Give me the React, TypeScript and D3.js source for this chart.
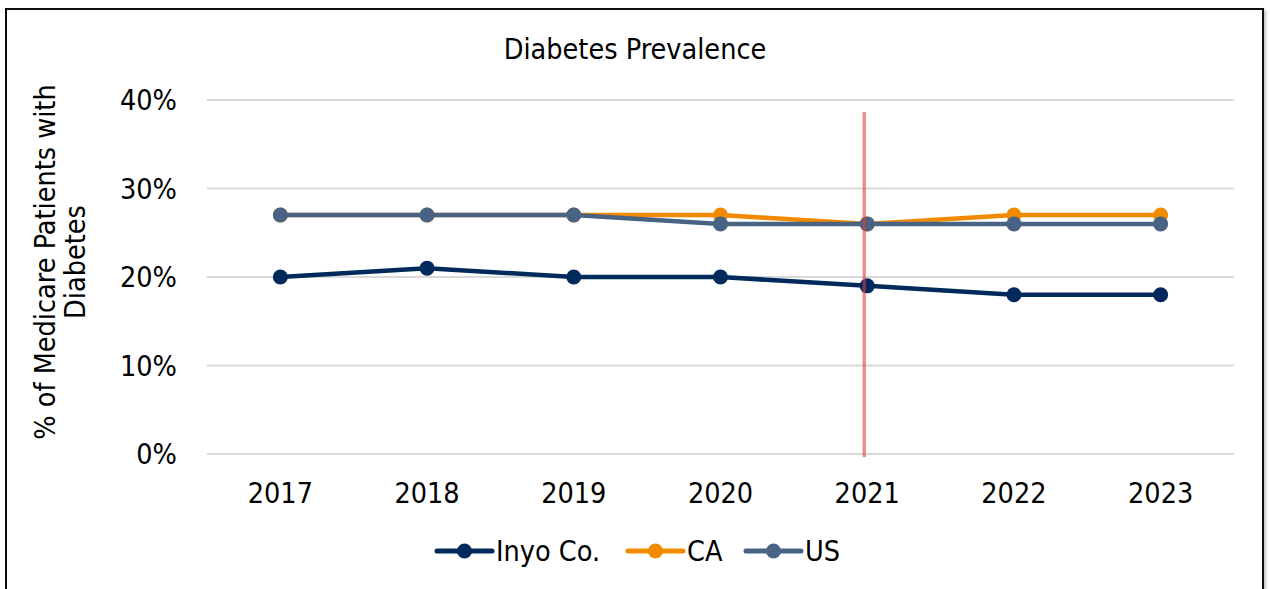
import React from "react";
import * as d3 from "d3";

const years = ["2017", "2018", "2019", "2020", "2021", "2022", "2023"];
const inyo = [0.2, 0.21, 0.2, 0.2, 0.19, 0.18, 0.18];
const ca = [0.27, 0.27, 0.27, 0.27, 0.26, 0.27, 0.27];
const us = [0.27, 0.27, 0.27, 0.26, 0.26, 0.26, 0.26];
const yTicks = [0, 0.1, 0.2, 0.3, 0.4];
const markerYear = "2021";
const seriesNames = ["Inyo Co.", "CA", "US"];
const seriesColors = ["#002a5c", "#f28a00", "#496384"];

const W = 1270;
const H = 589;
const FONT = "'DejaVu Sans', sans-serif";

export default function App() {
  const x = d3.scaleBand<string>().domain(years).range([207, 1234]);
  const y = d3.scaleLinear().domain([0, 0.4]).range([454, 100]);
  const cx = (d: string) => (x(d) as number) + x.bandwidth() / 2;
  const line = d3
    .line<number>()
    .x((_, i) => cx(years[i]))
    .y((v) => y(v));
  const series = [inyo, ca, us];
  const legendX = [437, 628, 746];
  const fmt = d3.format(".0%");

  return (
    <svg
      width={W}
      height={H}
      style={{ position: "absolute", left: 0, top: 0, background: "#fff" }}
      fontFamily={FONT}
      fontStretch="condensed"
    >
      <defs>
        <filter id="sh" x="-5%" y="-5%" width="110%" height="110%">
          <feDropShadow dx="2" dy="2" stdDeviation="1.5" floodColor="#000" floodOpacity="0.25" />
        </filter>
      </defs>
      <rect x={6} y={9} width={1257} height={600} fill="#fff" stroke="#111" strokeWidth={2} filter="url(#sh)" />
      <text x={635} y={59} textAnchor="middle" fontSize={28.5} fill="#000">
        Diabetes Prevalence
      </text>
      {yTicks.map((t) => (
        <g key={t}>
          <line x1={207} x2={1234} y1={y(t)} y2={y(t)} stroke="#d9d9d9" strokeWidth={2} />
          <text x={177} y={y(t)} dy="0.36em" textAnchor="end" fontSize={28.5} fill="#000">
            {fmt(t)}
          </text>
        </g>
      ))}
      {years.map((yr) => (
        <text key={yr} x={cx(yr)} y={503} textAnchor="middle" fontSize={28.5} fill="#000">
          {yr}
        </text>
      ))}
      <text transform="translate(0,262) rotate(-90)" textAnchor="middle" fontSize={28.5} fill="#000">
        <tspan x={0} y={55}>% of Medicare Patients with</tspan>
        <tspan x={0} y={85}>Diabetes</tspan>
      </text>
      {series.map((s, si) => (
        <g key={si}>
          <path d={line(s) as string} fill="none" stroke={seriesColors[si]} strokeWidth={4.5} strokeLinejoin="round" />
          {s.map((v, i) => (
            <circle key={i} cx={cx(years[i])} cy={y(v)} r={7.5} fill={seriesColors[si]} />
          ))}
        </g>
      ))}
      <line
        x1={cx(markerYear) - 3}
        x2={cx(markerYear) - 3}
        y1={112}
        y2={457}
        stroke="#dc3c41"
        strokeOpacity={0.6}
        strokeWidth={3.3}
      />
      {seriesNames.map((n, i) => (
        <g key={n}>
          <line x1={legendX[i]} x2={legendX[i] + 55} y1={551} y2={551} stroke={seriesColors[i]} strokeWidth={5} strokeLinecap="round" />
          <circle cx={legendX[i] + 27.5} cy={551} r={7.5} fill={seriesColors[i]} />
          <text x={legendX[i] + 59} y={561} fontSize={28.5} fill="#000">
            {n}
          </text>
        </g>
      ))}
    </svg>
  );
}
